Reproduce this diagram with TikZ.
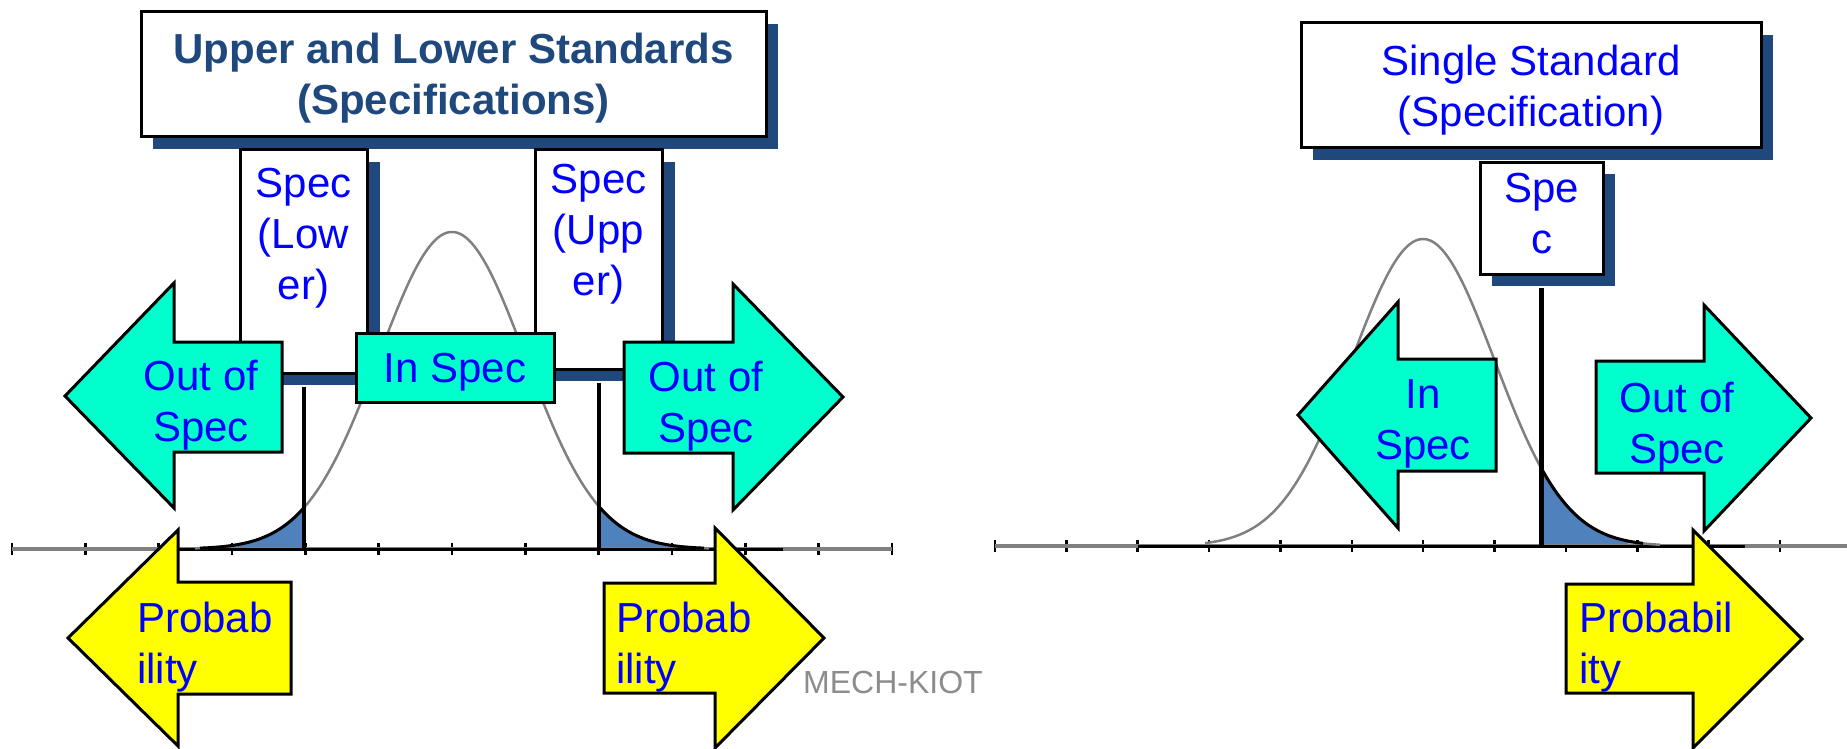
\documentclass[tikz,border=0pt]{standalone}
\usepackage{fontspec}
\setmainfont{Liberation Sans}
\usetikzlibrary{shadows}
\definecolor{shadowblue}{RGB}{31,73,125}
\definecolor{titleblue}{RGB}{31,73,125}
\definecolor{aqua}{RGB}{0,255,204}
\definecolor{yel}{RGB}{255,255,0}
\definecolor{tailblue}{RGB}{79,129,189}
\definecolor{curvegray}{RGB}{128,128,128}
\definecolor{pureblue}{RGB}{0,0,255}
\definecolor{markgray}{RGB}{140,140,140}
\newcommand\tstrut{\rule{0pt}{35pt}}
\begin{document}
\begin{tikzpicture}[x=1pt,y=-1pt,
  sbox/.style={draw=black,line width=3pt,fill=white,inner sep=0pt,
     drop shadow={shadow xshift=12pt,shadow yshift=-12pt,fill=shadowblue,opacity=1}},
  lbl/.style={text=pureblue,font=\fontsize{42}{51}\selectfont,inner sep=0pt,align=center,anchor=north},
  lbll/.style={lbl,align=left,anchor=north west},
  cyanarrow/.style={draw=black,line width=3pt,fill=aqua},
  yelarrow/.style={draw=black,line width=3pt,fill=yel},
  axisgray/.style={draw=curvegray,line width=3.5pt},
  axisblack/.style={draw=black,line width=3pt},
  tickmk/.style={draw=black,line width=2.5pt},
  bellcurve/.style={draw=curvegray,line width=2.5pt},
  tailedge/.style={draw=black,line width=3pt},
  specline/.style={draw=black,line width=4.5pt}
]
\useasboundingbox (0,0) rectangle (1847,749);

% ---------- left axis ----------
\coordinate (LA0) at (12,549);
\coordinate (LA1) at (892,549);
\foreach \k in {0,...,12} \draw[tickmk] ({12+73.333*\k},543) -- ++(0,12);
\fill[tailblue] plot[domain=195:305,samples=40] (\x,{549-317*exp(-0.5*((\x-452)/73.333)*((\x-452)/73.333))}) -- (305,549) -- cycle;
\fill[tailblue] (599,549) -- plot[domain=599:709,samples=40] (\x,{549-317*exp(-0.5*((\x-452)/73.333)*((\x-452)/73.333))}) -- cycle;
\draw[axisgray] (LA0) -- (LA1);
\draw[axisblack] (170,549) -- (783,549);
\draw[bellcurve] plot[domain=195:709,samples=120,smooth] (\x,{549-317*exp(-0.5*((\x-452)/73.333)*((\x-452)/73.333))});
\draw[tailedge] plot[domain=200:305,samples=40,smooth] (\x,{549-317*exp(-0.5*((\x-452)/73.333)*((\x-452)/73.333))});
\draw[tailedge] plot[domain=599:704,samples=40,smooth] (\x,{549-317*exp(-0.5*((\x-452)/73.333)*((\x-452)/73.333))});

% ---------- right axis ----------
\coordinate (RA0) at (995,546);
\coordinate (RA1) at (1847,546);
\foreach \k in {0,...,11} \draw[tickmk] ({995+71.36*\k},540) -- ++(0,12);
\fill[tailblue] (1541,546) -- plot[domain=1541:1643,samples=40] (\x,{546-307*exp(-0.5*((\x-1423)/71.36)*((\x-1423)/71.36))}) -- cycle;
\draw[axisgray] (RA0) -- (RA1);
\draw[axisblack] (1138,546) -- (1745,546);
\draw[bellcurve] plot[domain=1205:1660,samples=120,smooth] (\x,{546-307*exp(-0.5*((\x-1423)/71.36)*((\x-1423)/71.36))});
\draw[tailedge] plot[domain=1541:1643,samples=40,smooth] (\x,{546-307*exp(-0.5*((\x-1423)/71.36)*((\x-1423)/71.36))});

% ---------- boxes ----------
\node[sbox,minimum width=625pt,minimum height=125pt] (titleL) at (453.5,74.5) {};
\node[sbox,minimum width=127pt,minimum height=223pt] (specL) at (304,261.5) {};
\node[sbox,minimum width=127pt,minimum height=219pt] (specU) at (599,259.5) {};
\node[sbox,minimum width=460pt,minimum height=125pt] (titleR) at (1531,85.5) {};
\node[sbox,minimum width=123pt,minimum height=112pt] (specS) at (1541.5,218) {};

\draw[specline] ([yshift=-12pt]specL.south) -- (specL.south |- LA0);
\draw[specline] ([yshift=-12pt]specU.south) -- (specU.south |- LA0);
\draw[specline] ([yshift=-12pt]specS.south) -- (specS.south |- RA0);

% ---------- arrows ----------
\node[draw=black,line width=3pt,fill=aqua,minimum width=198pt,minimum height=69pt,inner sep=0pt,
      text=pureblue,font=\fontsize{42}{51}\selectfont,text height=30pt,text depth=0pt] (inspecL) at (455,367.5) {In Spec};
\draw[cyanarrow] (282,342) -- (174,342) -- (174,283) -- (65,396) -- (174,508) -- (174,452) -- (282,452) -- cycle;
\draw[cyanarrow] (624,342) -- (733,342) -- (733,284) -- (843,397) -- (733,510) -- (733,453) -- (624,453) -- cycle;
\draw[yelarrow] (291,582) -- (178,582) -- (178,530) -- (68,638) -- (178,746) -- (178,694) -- (291,694) -- cycle;
\draw[yelarrow] (604,583) -- (715,583) -- (715,528) -- (824,638) -- (715,748) -- (715,693) -- (604,693) -- cycle;
\draw[cyanarrow] (1496,359) -- (1398,359) -- (1398,302) -- (1298,415) -- (1398,528) -- (1398,471) -- (1496,471) -- cycle;
\draw[cyanarrow] (1596,361) -- (1704,361) -- (1704,305) -- (1811,418) -- (1704,531) -- (1704,473) -- (1596,473) -- cycle;
\draw[yelarrow] (1566,584) -- (1693,584) -- (1693,530) -- (1802,639) -- (1693,748) -- (1693,693) -- (1566,693) -- cycle;

% ---------- texts ----------
\node[lbl,text=titleblue,font=\bfseries\fontsize{42}{51}\selectfont] (titleLtxt) at (453.5,28) {\tstrut Upper and Lower Standards\\(Specifications)};
\node[lbl] (titleRtxt) at (1531,40) {\tstrut Single Standard\\(Specification)};
\node[lbl] (specLtxt) at (303.5,162) {\tstrut Spec\\(Low\\er)};
\node[lbl] (specUtxt) at (598.5,158) {\tstrut Spec\\(Upp\\er)};
\node[lbl] (specStxt) at (1541.5,167) {\tstrut Spe\\c};
\node[lbl] (outLtxt) at (201,355) {\tstrut Out of\\Spec};
\node[lbl] (outRtxt) at (706,356) {\tstrut Out of\\Spec};
\node[lbl] (inStxt) at (1423,373) {\tstrut In\\Spec};
\node[lbl] (outStxt) at (1677,377) {\tstrut Out of\\Spec};
\node[lbll] (probLtxt) at (137,597) {\tstrut Probab\\ility};
\node[lbll] (probRtxt) at (616,597) {\tstrut Probab\\ility};
\node[lbll] (probStxt) at (1579,597) {\tstrut Probabil\\ity};
\node[anchor=base west,inner sep=0pt,text=markgray,font=\fontsize{32}{38}\selectfont] (mech) at (803,693) {MECH-KIOT};
\end{tikzpicture}
\end{document}
